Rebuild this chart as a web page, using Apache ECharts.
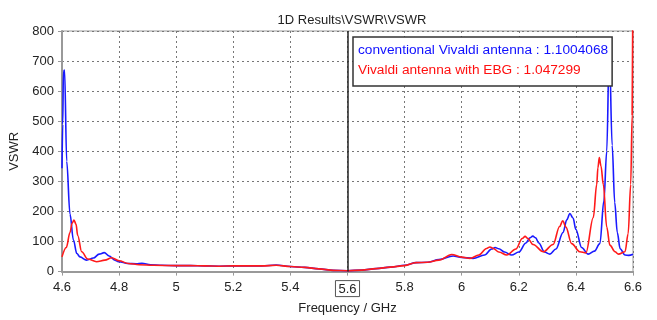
<!DOCTYPE html>
<html>
<head>
<meta charset="utf-8">
<script src="https://cdn.jsdelivr.net/npm/echarts@6/dist/echarts.min.js"></script>
<style>
  html, body { margin: 0; padding: 0; background: #fff; }
  #chart { width: 657px; height: 320px; }
</style>
</head>
<body>
<div id="chart"></div>
<script>
// VSWR vs frequency for the two antenna designs
const titleText = '1D Results\\VSWR\\VSWR';
const seriesNames = ['conventional Vivaldi antenna', 'Vivaldi antenna with EBG'];
const legendValues = ['1.1004068', '1.047299'];
const xTickLabels = ['4.6', '4.8', '5', '5.2', '5.4', '5.6', '5.8', '6', '6.2', '6.4', '6.6'];
const markedFreq = 5.6;

const blueFreq = [4.600, 4.6025, 4.605, 4.609, 4.6165, 4.628, 4.640, 4.652, 4.663, 4.686, 4.71, 4.73, 4.748, 4.765, 4.785, 4.80, 4.83, 4.86, 4.88, 4.91, 4.95, 5.00, 5.05, 5.10, 5.15, 5.20, 5.25, 5.30, 5.35, 5.40, 5.45, 5.50, 5.55, 5.60, 5.65, 5.70, 5.75, 5.80, 5.84, 5.88, 5.92, 5.97, 6.00, 6.04, 6.08, 6.105, 6.117, 6.13, 6.15, 6.175, 6.20, 6.225, 6.239, 6.249, 6.259, 6.27, 6.29, 6.309, 6.33, 6.355, 6.368, 6.379, 6.39, 6.40, 6.42, 6.443, 6.465, 6.484, 6.498, 6.508, 6.517, 6.527, 6.536, 6.545, 6.555, 6.572, 6.585, 6.60];
const blueVswr = [344, 490, 665, 670, 367, 191, 105, 60, 49, 38, 45, 58, 63, 52, 38, 33, 27, 26, 28, 23, 21, 20, 20, 19, 18, 19, 19, 19, 22, 17, 14, 9, 4, 3, 5, 10, 15, 21, 30, 31, 40, 52, 47, 44, 55, 75, 80, 76, 65, 55, 65, 95, 112, 118, 112, 95, 65, 58, 75, 130, 172, 193, 178, 140, 80, 58, 68, 93, 235, 400, 750, 420, 230, 130, 76, 55, 54, 58];

const redFreq = [4.600, 4.615, 4.628, 4.635, 4.642, 4.649, 4.655, 4.669, 4.69, 4.721, 4.75, 4.774, 4.80, 4.832, 4.87, 4.92, 5.00, 5.05, 5.10, 5.15, 5.20, 5.25, 5.30, 5.35, 5.40, 5.45, 5.50, 5.55, 5.60, 5.65, 5.70, 5.75, 5.80, 5.84, 5.88, 5.92, 5.965, 6.00, 6.029, 6.06, 6.087, 6.099, 6.111, 6.13, 6.158, 6.19, 6.212, 6.222, 6.232, 6.25, 6.286, 6.32, 6.343, 6.354, 6.365, 6.385, 6.414, 6.435, 6.461, 6.473, 6.477, 6.482, 6.488, 6.496, 6.508, 6.519, 6.537, 6.549, 6.572, 6.583, 6.592, 6.597, 6.60];
const redVswr = [49, 80, 130, 160, 171, 158, 120, 66, 42, 33, 38, 46, 36, 27, 23, 21, 20, 20, 19, 18, 19, 19, 19, 21, 17, 14, 9, 4, 3, 5, 10, 15, 20, 30, 31, 38, 57, 48, 44, 55, 77, 82, 77, 65, 55, 75, 110, 117, 110, 90, 66, 90, 150, 169, 148, 93, 66, 62, 180, 290, 345, 379, 350, 290, 148, 88, 66, 58, 66, 126, 290, 520, 1100];

const FONT = 'Liberation Sans';
const pairs = (xs, ys) => xs.map((x, i) => [x, ys[i]]);

const chart = echarts.init(document.getElementById('chart'), null, { renderer: 'canvas' });
chart.setOption({
  animation: false,
  backgroundColor: '#fff',
  textStyle: { fontFamily: FONT },
  title: {
    text: titleText,
    left: 347, top: 9, textAlign: 'center',
    textStyle: { fontFamily: FONT, fontSize: 13, fontWeight: 'normal', color: '#222' }
  },
  grid: {
    left: 62, right: 24, top: 31, bottom: 45,
    show: true, borderColor: '#999', borderWidth: 1, backgroundColor: 'transparent'
  },
  legend: {
    orient: 'vertical',
    left: 353, top: 37,
    icon: 'none', itemWidth: 0, itemHeight: 13, itemGap: 6,
    padding: [6, 4, 9, 0],
    backgroundColor: '#fff',
    borderColor: '#333', borderWidth: 1.5,
    selectedMode: false,
    formatter: name => name + ' : ' + legendValues[seriesNames.indexOf(name)],
    textStyle: { fontFamily: FONT, fontSize: 13.7 },
    data: [
      { name: seriesNames[0], textStyle: { color: '#1010ff' } },
      { name: seriesNames[1], textStyle: { color: '#ff1010' } }
    ],
    z: 10
  },
  xAxis: {
    type: 'value', min: 4.6, max: 6.6, interval: 0.2,
    name: 'Frequency / GHz', nameLocation: 'middle', nameGap: 26,
    nameTextStyle: { fontFamily: FONT, fontSize: 13, color: '#222' },
    axisLine: { show: true, lineStyle: { color: '#999', width: 2 } },
    axisTick: { show: true, length: 4, lineStyle: { color: '#999' } },
    splitLine: { show: true, lineStyle: { color: '#777', type: [2, 3], width: 1 } },
    axisLabel: {
      margin: 9, fontFamily: FONT, fontSize: 13, color: '#222',
      formatter: v => {
        const s = xTickLabels[Math.round((v - 4.6) / 0.2)];
        return s === String(markedFreq) ? '{box|' + s + '}' : s;
      },
      rich: {
        box: {
          fontFamily: FONT, fontSize: 13, color: '#222',
          borderColor: '#555', borderWidth: 1, padding: [2, 3, 1, 3]
        }
      }
    }
  },
  yAxis: {
    type: 'value', min: 0, max: 800, interval: 100,
    name: 'VSWR', nameLocation: 'middle', nameGap: 33, nameRotate: 90,
    nameTextStyle: { fontFamily: FONT, fontSize: 13, color: '#222' },
    axisLine: { show: true, lineStyle: { color: '#999', width: 2 } },
    axisTick: { show: true, length: 4, lineStyle: { color: '#999' } },
    splitLine: { show: true, lineStyle: { color: '#777', type: [2, 3], width: 1 } },
    axisLabel: { margin: 8, fontFamily: FONT, fontSize: 13, color: '#222' }
  },
  series: [
    {
      name: seriesNames[0], type: 'line',
      data: pairs(blueFreq, blueVswr),
      showSymbol: false, smooth: 0.35, smoothMonotone: 'x', clip: true,
      lineStyle: { color: '#1a1aff', width: 1.6 },
      itemStyle: { color: '#1a1aff' },
      markLine: {
        silent: true, symbol: 'none', label: { show: false },
        lineStyle: { color: '#222', type: 'solid', width: 1.5 },
        data: [{ xAxis: markedFreq }]
      },
      z: 2
    },
    {
      name: seriesNames[1], type: 'line',
      data: pairs(redFreq, redVswr),
      showSymbol: false, smooth: 0.35, smoothMonotone: 'x', clip: true,
      lineStyle: { color: '#ff1a1a', width: 1.6 },
      itemStyle: { color: '#ff1a1a' },
      z: 3
    }
  ]
});
</script>
</body>
</html>
